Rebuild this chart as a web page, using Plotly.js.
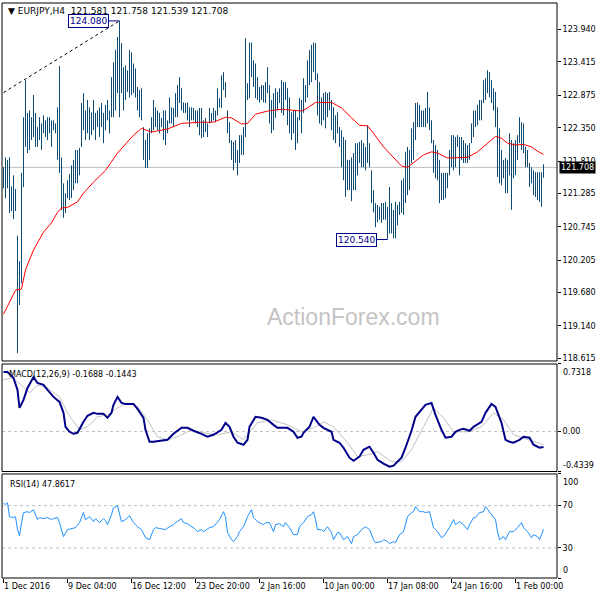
<!DOCTYPE html>
<html><head><meta charset="utf-8">
<script src="https://cdn.plot.ly/plotly-3.0.1.min.js"></script>
<style>html,body{margin:0;padding:0;background:#fff}#chart{width:600px;height:600px}</style>
</head><body><div id="chart"></div>
<script>
// ---- data ----
const tickIdx = [0, 32, 64, 96, 128, 160, 192, 224, 256];
const tickLabels = ['1 Dec 2016', '9 Dec 04:00', '16 Dec 12:00', '23 Dec 20:00', '2 Jan 16:00', '10 Jan 00:00', '17 Jan 08:00', '24 Jan 16:00', '1 Feb 00:00'];

const highs = [
121.71,121.87,121.83,121.87,121.40,121.58,121.36,120.60,120.19,121.62,
122.52,123.12,122.59,122.63,122.52,122.88,122.59,122.36,122.52,122.42,
122.55,122.47,122.52,122.52,122.47,122.47,122.42,122.68,123.35,121.87,
121.45,121.29,121.50,121.60,121.74,121.83,121.99,121.99,122.02,122.75,
122.91,122.63,122.80,122.68,122.60,122.80,122.59,122.63,122.68,122.75,
122.59,122.72,122.80,122.63,123.17,123.41,123.61,123.82,124.08,123.72,
123.33,123.36,123.28,123.61,123.57,123.39,123.31,123.01,122.96,122.99,
122.36,122.15,122.26,122.34,122.52,122.80,122.68,122.63,122.59,122.51,
122.63,122.63,122.47,122.84,122.68,122.67,122.91,123.04,123.17,122.99,
122.76,122.75,122.76,122.68,122.68,122.67,122.63,122.63,122.67,122.67,
122.47,122.51,122.42,122.67,122.59,122.67,122.63,122.99,122.83,123.20,
123.25,123.09,122.63,122.44,122.15,122.12,122.15,121.99,122.23,122.23,
122.36,123.80,123.07,123.73,123.73,123.44,123.39,123.17,123.01,123.04,
123.04,123.09,123.33,123.04,122.80,122.91,122.99,122.93,122.99,123.12,
123.09,123.09,122.99,122.84,122.60,122.63,122.63,122.52,122.83,122.80,
123.15,123.04,123.44,123.61,123.69,123.73,123.72,123.23,123.09,122.84,
122.91,122.93,122.91,122.93,122.80,122.68,122.55,122.60,122.36,122.31,
122.20,122.15,121.83,121.83,121.87,121.94,122.10,122.10,122.12,122.15,
122.10,122.04,122.39,122.10,121.66,121.34,121.13,121.10,121.07,121.13,
121.13,121.15,121.07,121.39,121.13,121.02,121.15,121.10,121.15,121.50,
121.53,121.96,122.04,121.99,122.34,122.44,122.75,122.76,122.72,122.63,
122.63,122.67,122.93,122.68,122.47,122.15,122.07,121.99,121.83,121.62,
121.62,121.62,121.62,121.99,122.23,122.23,122.20,122.23,122.20,122.20,
122.15,122.10,122.07,122.10,122.42,122.63,122.63,122.72,122.80,122.80,
123.12,123.15,123.28,123.25,123.12,122.99,122.93,122.68,122.34,121.99,
121.83,121.86,121.83,122.26,122.15,122.10,122.15,122.23,122.52,122.44,
122.42,122.04,121.99,121.78,121.71,121.66,121.63,121.63,121.63,121.63,
121.758];

const lows = [
121.37,121.21,121.37,120.97,121.00,120.87,121.00,118.70,119.48,119.83,
121.39,122.04,121.94,121.99,122.15,122.20,122.04,122.04,122.15,121.99,
122.26,122.20,122.15,122.26,122.04,122.31,122.26,121.83,121.62,121.02,
120.89,120.97,121.21,121.18,121.21,121.34,121.45,121.45,121.58,122.04,
122.31,122.15,122.26,122.15,122.23,122.31,122.15,122.36,122.20,122.36,
122.10,122.31,122.47,122.26,122.52,122.52,122.63,122.91,122.52,122.91,
122.63,122.80,122.93,122.84,122.88,122.91,122.84,122.63,122.52,122.47,
121.83,121.70,121.70,121.83,122.26,122.31,122.36,122.31,122.26,122.36,
122.15,122.07,122.26,122.42,122.42,122.36,122.52,122.52,122.75,122.63,
122.59,122.59,122.47,122.36,122.47,122.47,122.42,122.36,122.23,122.18,
122.20,122.28,122.20,122.42,122.44,122.47,122.44,122.55,122.68,122.67,
122.96,122.84,122.26,122.10,121.83,121.66,121.78,121.58,121.78,121.91,
121.91,122.20,122.80,122.83,123.17,123.01,122.83,122.80,122.76,122.80,
122.76,122.75,122.91,122.42,122.26,122.31,122.51,122.63,122.75,122.59,
122.55,122.80,122.39,122.26,122.15,122.26,121.99,122.10,122.47,122.26,
122.59,122.76,122.84,123.04,123.09,123.25,123.12,122.55,122.42,122.39,
122.47,122.34,122.52,122.63,122.31,122.15,122.10,122.26,122.04,121.71,
121.50,121.23,121.34,121.34,121.16,121.34,121.34,121.58,121.78,121.71,
121.71,121.66,121.78,121.71,121.13,120.98,120.74,120.82,120.86,120.81,
120.86,120.86,120.54,120.64,120.64,120.56,120.56,120.77,120.94,120.97,
120.94,121.13,121.26,121.34,121.78,121.83,122.15,122.36,122.36,122.36,
122.36,122.36,122.42,122.31,122.10,121.62,121.53,121.50,121.13,121.18,
121.18,121.21,121.37,121.58,121.71,121.66,121.71,122.04,121.58,121.83,
121.78,121.78,121.78,121.83,122.10,122.20,122.36,122.39,122.47,122.47,
122.75,122.80,122.91,122.84,122.75,122.63,122.36,121.55,121.45,121.42,
121.53,121.29,121.29,121.58,121.02,121.53,121.58,121.83,122.10,121.99,
121.94,121.71,121.71,121.39,121.45,121.26,121.23,121.18,121.15,121.07,
121.539];

const lastClose = 121.708;

const maX = [0,6,9,11,15,20,24,27,29,32,37,40,45,51,57,65,69,74,82,89,99,105,111,114,119,122,126,132,139,145,149,152,156,164,169,174,178,182,185,190,195,199,202,205,210,214,217,222,227,232,237,242,246,249,252,256,260,264,267,270];
const maY = [119.33,119.72,119.74,120.05,120.37,120.66,120.81,120.98,121.05,121.06,121.15,121.29,121.47,121.66,121.94,122.23,122.34,122.28,122.33,122.42,122.44,122.44,122.52,122.51,122.41,122.42,122.57,122.62,122.65,122.63,122.62,122.67,122.76,122.76,122.67,122.51,122.39,122.38,122.26,122.04,121.86,121.73,121.71,121.78,121.91,121.96,121.94,121.86,121.87,121.87,121.96,122.10,122.21,122.18,122.10,122.07,122.08,122.04,121.97,121.92];

const trendX = [0, 58];
const trendY = [122.92, 124.08];

const macdX = [0,2,5,7,8,10,12,15,17,20,22,25,28,30,31,33,35,37,40,42,45,47,50,52,54,55,57,59,61,65,67,70,71,73,75,79,82,85,89,92,95,99,102,105,109,111,113,115,117,120,122,123,126,129,132,135,137,142,145,147,149,150,153,155,158,160,164,165,168,170,173,175,178,180,183,185,187,190,193,195,199,201,204,206,209,211,214,216,219,221,224,226,228,230,233,235,239,241,244,246,249,251,253,255,258,260,263,265,268,270];
const macdY = [0.645,0.645,0.58,0.451,0.256,0.343,0.472,0.59,0.526,0.505,0.451,0.375,0.321,0.202,0.051,-0.003,-0.025,-0.014,0.105,0.170,0.202,0.191,0.191,0.148,0.202,0.289,0.375,0.310,0.299,0.299,0.245,0.148,0.018,-0.111,-0.111,-0.101,-0.090,-0.025,0.040,0.040,0.008,-0.025,-0.057,-0.036,0.018,0.094,0.051,-0.057,-0.122,-0.144,-0.090,0.051,0.159,0.148,0.126,0.072,0.040,0.040,-0.003,-0.068,-0.057,-0.014,0.051,0.159,0.072,0.040,-0.003,-0.090,-0.122,-0.176,-0.284,-0.317,-0.273,-0.198,-0.165,-0.230,-0.306,-0.349,-0.382,-0.371,-0.284,-0.176,0.008,0.159,0.245,0.289,0.310,0.181,0.018,-0.068,-0.057,-0.003,0.018,0.029,0.008,0.051,0.105,0.202,0.299,0.267,0.094,-0.090,-0.111,-0.122,-0.090,-0.057,-0.068,-0.144,-0.176,-0.1688];

const sigX = [0,4,9,13,17,22,28,32,38,42,47,52,57,62,67,72,77,82,87,94,100,107,114,120,127,134,142,149,155,160,165,172,177,182,187,194,199,204,210,215,220,225,232,239,245,250,255,262,269,270];
const sigY = [0.559,0.580,0.505,0.418,0.505,0.472,0.375,0.202,0.018,0.051,0.159,0.181,0.256,0.310,0.267,0.126,-0.057,-0.090,-0.057,0.018,-0.014,-0.036,-0.003,-0.090,0.094,0.126,0.072,-0.003,0.040,0.105,0.051,-0.122,-0.273,-0.252,-0.219,-0.328,-0.328,-0.198,0.051,0.256,0.148,-0.003,-0.003,0.051,0.202,0.126,-0.036,-0.090,-0.144,-0.1443];

const rsiX = [0,1,2,3,5,6,7,8,9,10,12,13,15,17,18,20,22,24,25,27,28,30,32,35,36,38,40,41,43,45,46,48,50,51,52,54,55,57,58,59,61,63,65,67,69,71,73,75,76,79,81,83,85,86,89,90,92,94,95,97,99,100,103,105,108,110,111,112,114,115,117,118,120,122,124,125,127,130,131,133,135,136,138,140,141,143,145,147,148,150,152,154,155,156,157,159,160,162,164,165,167,168,170,172,174,175,177,179,181,183,185,186,189,190,192,193,195,196,198,200,202,204,205,206,208,210,211,213,215,217,219,220,223,225,226,228,230,232,233,235,236,238,240,241,243,245,246,247,248,250,251,253,255,257,259,260,262,264,265,267,268,269,270];
const rsiY = [72.8,70.9,72.8,59.6,58.7,59.6,47.3,41.6,53.9,63.4,64.3,63.4,66.2,56.8,58.7,57.7,58.7,56.8,57.7,58.7,53.9,40.7,47.3,48.3,49.2,53.9,63.4,56.8,59.6,54.9,57.7,53.9,57.7,55.8,52.0,61.5,68.1,70.0,63.4,54.9,56.8,60.5,53.9,50.1,47.3,39.7,37.8,47.3,49.2,48.3,47.3,50.1,52.0,53.9,57.7,53.9,53.0,50.1,49.2,45.4,47.3,45.4,49.2,50.1,56.8,64.3,59.6,44.5,37.8,36.0,40.7,45.4,50.1,59.6,66.2,58.7,54.9,52.0,53.9,53.9,45.4,52.0,53.0,50.1,53.9,49.2,42.6,42.6,50.1,53.9,59.6,61.5,64.3,56.8,47.3,47.3,45.4,50.1,44.5,37.8,44.5,44.5,37.8,40.7,34.1,40.7,42.6,47.3,50.1,47.3,37.8,35.0,36.0,37.8,36.0,34.1,36.0,35.0,42.6,45.4,59.6,63.4,64.3,69.1,64.3,64.3,63.4,64.3,49.2,45.4,39.7,40.7,49.2,56.8,52.0,54.9,52.0,47.3,52.0,58.7,58.7,63.4,64.3,69.1,64.3,59.6,56.8,45.4,37.8,40.7,37.8,45.4,45.4,49.2,53.9,49.2,45.4,39.7,42.6,40.7,37.8,42.6,47.86];

const priceTicks = [123.940, 123.415, 122.875, 122.350, 121.810, 121.285, 120.745, 120.205, 119.680, 119.140, 118.615];
const macdTop = 0.7318, macdBottom = -0.4339;
const rsiLevels = [70, 30];

const hiLabel = {i: 58, v: 124.080};
const loLabel = {i: 192, v: 120.540};

// ---- drawing ----
const F = 'DejaVu Sans, sans-serif';
const barX = [], barY = [];
for (let i = 0; i < highs.length; i++) { barX.push(i, i, null); barY.push(lows[i], highs[i], null); }

const data = [
  {type:'scatter', mode:'lines', x:barX, y:barY, line:{color:'#0f4a72', width:1}, connectgaps:false, hoverinfo:'skip'},
  {type:'scatter', mode:'lines', x:maX, y:maY, line:{color:'#ff0000', width:1}, hoverinfo:'skip'},
  {type:'scatter', mode:'lines', x:trendX, y:trendY, line:{color:'#000', width:1, dash:'dot'}, hoverinfo:'skip'},
  {type:'scatter', mode:'lines', x:sigX, y:sigY, yaxis:'y2', line:{color:'#c0c0c0', width:1}, hoverinfo:'skip'},
  {type:'scatter', mode:'lines', x:macdX, y:macdY, yaxis:'y2', line:{color:'#00008b', width:2}, hoverinfo:'skip'},
  {type:'scatter', mode:'lines', x:rsiX, y:rsiY, yaxis:'y3', line:{color:'#1e90ff', width:1}, hoverinfo:'skip'}
];

const axisCommon = {side:'right', anchor:'x', ticks:'outside', ticklen:3, tickcolor:'#000', showgrid:false, zeroline:false, showline:false, tickfont:{family:F, size:8, color:'#000'}, tickmode:'array', fixedrange:true};

const shapes = [
  {type:'rect', xref:'paper', x0:0, x1:1, yref:'y domain', y0:0, y1:1, line:{color:'#000', width:1}, layer:'above'},
  {type:'rect', xref:'paper', x0:0, x1:1, yref:'y2 domain', y0:0, y1:1, line:{color:'#000', width:1}, layer:'above'},
  {type:'rect', xref:'paper', x0:0, x1:1, yref:'y3 domain', y0:0, y1:1, line:{color:'#000', width:1}, layer:'above'},
  {type:'line', xref:'paper', x0:0, x1:1, yref:'y', y0:lastClose, y1:lastClose, line:{color:'#c0c0c0', width:1}, layer:'below'},
  {type:'line', xref:'paper', x0:0, x1:1, yref:'y2', y0:0, y1:0, line:{color:'#c0c0c0', width:1, dash:'3px,3px'}, layer:'below'}
];
rsiLevels.forEach(v => shapes.push({type:'line', xref:'paper', x0:0, x1:1, yref:'y3', y0:v, y1:v, line:{color:'#c0c0c0', width:1, dash:'3px,3px'}, layer:'below'}));

const boxLabel = (p) => ({xref:'x', yref:'y', x:p.i, y:p.v, text:p.v.toFixed(3), showarrow:true, arrowhead:0, arrowwidth:1, arrowcolor:'#00008b', ax:-31, ay:0,
  bordercolor:'#00008b', borderwidth:1, borderpad:1, bgcolor:'#fff', font:{family:F, size:9, color:'#00008b'}});

const annotations = [
  {xref:'paper', yref:'paper', x:0.007, y:0.999, xanchor:'left', yanchor:'top', showarrow:false,
   text:'▼ EURJPY,H4\u00a0\u00a0121.581 121.758 121.539 121.708', font:{family:F, size:9, color:'#000'}},
  {xref:'paper', yref:'y2 domain', x:0.009, y:0.905, xanchor:'left', yanchor:'middle', showarrow:false,
   text:'MACD(12,26,9) -0.1688 -0.1443', font:{family:F, size:8, color:'#000'}},
  {xref:'paper', yref:'y3 domain', x:0.011, y:0.9, xanchor:'left', yanchor:'middle', showarrow:false,
   text:'RSI(14) 47.8617', font:{family:F, size:8, color:'#000'}},
  {xref:'paper', yref:'y domain', x:0.634, y:0.123, xanchor:'center', yanchor:'middle', showarrow:false,
   text:'ActionForex.com', font:{family:'Liberation Sans, Arial, sans-serif', size:23, color:'#c4c4c4'}},
  boxLabel(hiLabel),
  boxLabel(loLabel),
  {xref:'paper', yref:'y', x:1, y:lastClose, xanchor:'left', xshift:2, showarrow:false, text:lastClose.toFixed(3),
   bgcolor:'#000', borderpad:1, font:{family:F, size:8, color:'#fff'}},
  {xref:'paper', yref:'y2', x:1, y:macdTop, xanchor:'left', yanchor:'top', xshift:4, yshift:-2, showarrow:false, text:macdTop.toFixed(4), font:{family:F, size:8, color:'#000'}},
  {xref:'paper', yref:'y2', x:1, y:macdBottom, xanchor:'left', yanchor:'bottom', xshift:4, yshift:0, showarrow:false, text:macdBottom.toFixed(4), font:{family:F, size:8, color:'#000'}},
  {xref:'paper', yref:'y3', x:1, y:100, xanchor:'left', yanchor:'top', xshift:4, yshift:-2, showarrow:false, text:'100', font:{family:F, size:8, color:'#000'}},
  {xref:'paper', yref:'y3', x:1, y:1.5, xanchor:'left', yanchor:'bottom', xshift:4, yshift:1, showarrow:false, text:'0', font:{family:F, size:8, color:'#000'}}
];

const layout = {
  width:600, height:600,
  margin:{l:2, r:43, t:3, b:22, pad:0},
  paper_bgcolor:'#fff', plot_bgcolor:'#fff', showlegend:false,
  font:{family:F, size:8, color:'#000'},
  xaxis:{domain:[0,1], range:[-0.75, 276.75], anchor:'y3', tickmode:'array', tickvals:tickIdx, ticktext:tickLabels,
         ticks:'outside', ticklen:4, tickcolor:'#000', showgrid:false, zeroline:false, showline:false,
         ticklabelposition:'outside right', tickfont:{family:F, size:8, color:'#000'}, fixedrange:true},
  yaxis:Object.assign({}, axisCommon, {domain:[0.3774, 1], range:[118.573, 124.37], tickvals:priceTicks, ticktext:priceTicks.map(v => v.toFixed(3))}),
  yaxis2:Object.assign({}, axisCommon, {domain:[0.1852, 0.3722], range:[macdBottom, macdTop], tickvals:[macdTop, 0, macdBottom], ticktext:['', '0.00', '']}),
  yaxis3:Object.assign({}, axisCommon, {domain:[0, 0.1809], range:[1.5, 100], tickvals:[100, 70, 30, 1.5], ticktext:['', '70', '30', '']}),
  shapes:shapes,
  annotations:annotations
};

Plotly.newPlot('chart', data, layout, {staticPlot:true, displayModeBar:false});
</script>
</body></html>
